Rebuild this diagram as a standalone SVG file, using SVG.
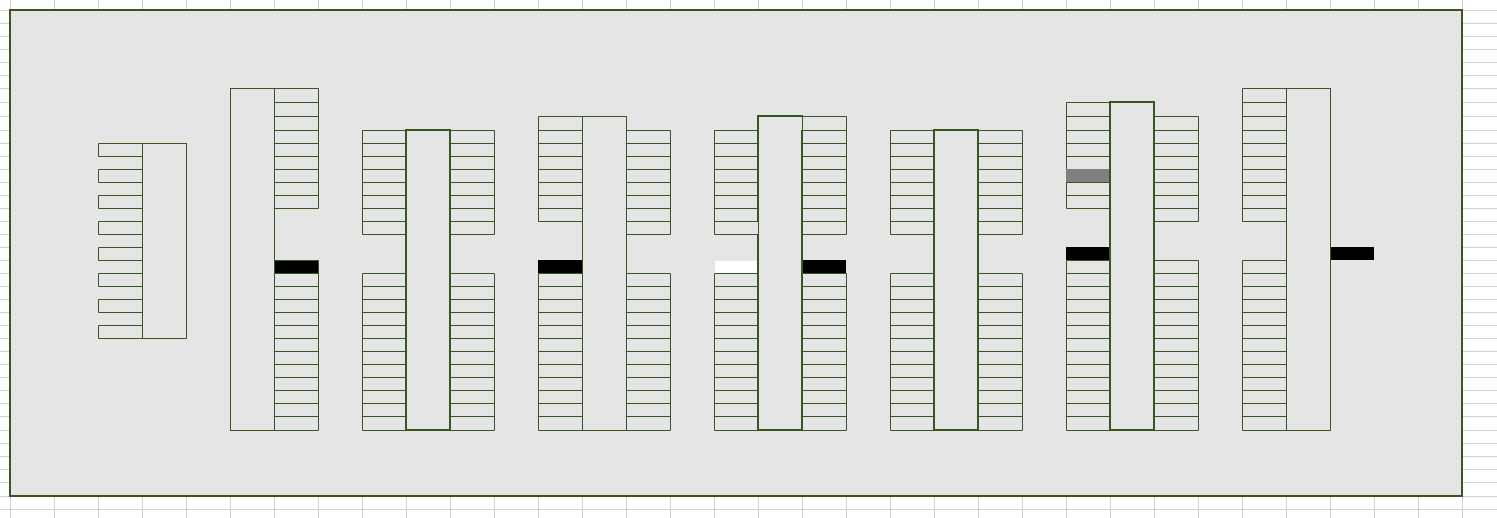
<svg xmlns="http://www.w3.org/2000/svg" width="1497" height="518" viewBox="0 0 1497 518">
<style>
.grid{fill:none;stroke:#d0d0d0;stroke-width:1}
.frame{fill:#e5e5e5;stroke:#375623;stroke-width:2}
.c{fill:none;stroke:#375623;stroke-width:1}
.t{fill:none;stroke:#375623;stroke-width:2}
.k{fill:#000}
</style>
<defs>
<path id="u130-234" class="c" d="M.5 130.5h44V234.5H.5zM.5 143.5h44m-44 13h44m-44 13h44m-44 13h44m-44 13h44m-44 13h44m-44 13h44"/>
<path id="u116-221" class="c" d="M.5 116.5h44V221.5H.5zM.5 130.5h44M.5 143.5h44m-44 13h44m-44 13h44m-44 13h44m-44 13h44m-44 13h44"/>
<path id="u116-234" class="c" d="M.5 116.5h44V234.5H.5zM.5 130.5h44M.5 143.5h44m-44 13h44m-44 13h44m-44 13h44m-44 13h44m-44 13h44m-44 13h44"/>
<path id="u102-208" class="c" d="M.5 102.5h44V208.5H.5zM.5 116.5h44M.5 130.5h44M.5 143.5h44m-44 13h44m-44 13h44m-44 13h44m-44 13h44"/>
<path id="u88-208" class="c" d="M.5 88.5h44V208.5H.5zM.5 102.5h44M.5 116.5h44M.5 130.5h44M.5 143.5h44m-44 13h44m-44 13h44m-44 13h44m-44 13h44"/>
<path id="u88-221" class="c" d="M.5 88.5h44V221.5H.5zM.5 102.5h44M.5 116.5h44M.5 130.5h44M.5 143.5h44m-44 13h44m-44 13h44m-44 13h44m-44 13h44m-44 13h44"/>
<path id="l273-430" class="c" d="M.5 273.5h44V430.5H.5zM.5 286.5h44m-44 13h44m-44 13h44m-44 13h44m-44 13h44m-44 13h44m-44 13h44m-44 13h44m-44 13h44m-44 13h44m-44 13h44"/>
<path id="l260-430" class="c" d="M.5 260.5h44V430.5H.5zM.5 273.5h44m-44 13h44m-44 13h44m-44 13h44m-44 13h44m-44 13h44m-44 13h44m-44 13h44m-44 13h44m-44 13h44m-44 13h44m-44 13h44"/>
</defs>
<rect width="1497" height="518" fill="#fff"/>
<g id="sheet-grid">
<path class="grid" d="M0 10.5H1497M0 23.5H1497M0 36.5H1497M0 49.5H1497M0 62.5H1497M0 75.5H1497M0 88.5H1497M0 102.5H1497M0 116.5H1497M0 130.5H1497M0 143.5H1497M0 156.5H1497M0 169.5H1497M0 182.5H1497M0 195.5H1497M0 208.5H1497M0 221.5H1497M0 234.5H1497M0 247.5H1497M0 260.5H1497M0 273.5H1497M0 286.5H1497M0 299.5H1497M0 312.5H1497M0 325.5H1497M0 338.5H1497M0 351.5H1497M0 364.5H1497M0 377.5H1497M0 390.5H1497M0 403.5H1497M0 416.5H1497M0 430.5H1497M0 443.5H1497M0 456.5H1497M0 469.5H1497M0 482.5H1497M0 496.5H1497M0 509.5H1497"/>
<path class="grid" d="M10.5 0V518M54.5 0V518M98.5 0V518M142.5 0V518M186.5 0V518M230.5 0V518M274.5 0V518M318.5 0V518M362.5 0V518M406.5 0V518M450.5 0V518M494.5 0V518M538.5 0V518M582.5 0V518M626.5 0V518M670.5 0V518M714.5 0V518M758.5 0V518M802.5 0V518M846.5 0V518M890.5 0V518M934.5 0V518M978.5 0V518M1022.5 0V518M1066.5 0V518M1110.5 0V518M1154.5 0V518M1198.5 0V518M1242.5 0V518M1286.5 0V518M1330.5 0V518M1374.5 0V518M1418.5 0V518M1462.5 0V518"/>
</g>
<rect id="frame" class="frame" x="10" y="10" width="1452" height="486"/>
<g id="connectors"/>
<g id="block-1">
<path class="c" d="M98.5 143.5h44v13h-44zM98.5 169.5h44v13h-44zM98.5 195.5h44v13h-44zM98.5 221.5h44v13h-44zM98.5 247.5h44v13h-44zM98.5 273.5h44v13h-44zM98.5 299.5h44v13h-44zM98.5 325.5h44v13h-44z"/>
<rect class="c" x="142.5" y="143.5" width="44" height="195"/>
</g>
<g id="block-2">
<rect class="c" x="230.5" y="88.5" width="44" height="342"/>
<use href="#u88-208" x="274"/>
<use href="#l273-430" x="274"/>
<rect class="k" x="274.5" y="260.5" width="44" height="13" stroke="#375623"/>
</g>
<g id="block-3">
<use href="#u130-234" x="362"/>
<use href="#u130-234" x="450"/>
<use href="#l273-430" x="362"/>
<use href="#l273-430" x="450"/>
<rect class="t" x="406" y="130" width="44" height="300"/>
</g>
<g id="block-4">
<use href="#u116-221" x="538"/>
<use href="#u130-234" x="626"/>
<use href="#l273-430" x="538"/>
<use href="#l273-430" x="626"/>
<rect class="c" x="582.5" y="116.5" width="44" height="314"/>
<rect class="k" x="538" y="260" width="44" height="13"/>
</g>
<g id="block-5">
<use href="#u130-234" x="714"/>
<use href="#u116-234" x="802"/>
<use href="#l273-430" x="714"/>
<use href="#l273-430" x="802"/>
<path class="t" d="M758 115V221M758 234V431M757 430H803M802 431V130M757 116H803"/>
<path class="c" d="M758.5 221V234M802.5 116V130"/>
<rect x="715" y="261" width="42" height="12" fill="#fff"/>
<rect class="k" x="803" y="260" width="43" height="13"/>
</g>
<g id="block-6">
<use href="#u130-234" x="890"/>
<use href="#u130-234" x="978"/>
<use href="#l273-430" x="890"/>
<use href="#l273-430" x="978"/>
<rect class="t" x="934" y="130" width="44" height="300"/>
</g>
<g id="block-7">
<use href="#u102-208" x="1066"/>
<use href="#u116-221" x="1154"/>
<use href="#l260-430" x="1066"/>
<use href="#l260-430" x="1154"/>
<rect x="1066" y="169" width="43" height="13" fill="#808080"/>
<rect class="k" x="1066" y="247" width="43" height="13"/>
<rect class="t" x="1110" y="102" width="44" height="328"/>
</g>
<g id="block-8">
<use href="#u88-221" x="1242"/>
<use href="#l260-430" x="1242"/>
<rect class="c" x="1286.5" y="88.5" width="44" height="342"/>
<rect class="k" x="1331" y="247" width="43" height="13"/>
</g>
</svg>
